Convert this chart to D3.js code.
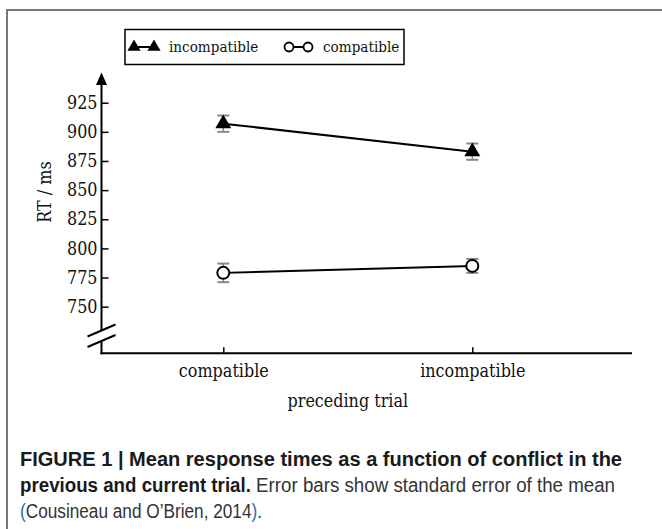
<!DOCTYPE html>
<html>
<head>
<meta charset="utf-8">
<script src="https://cdn.jsdelivr.net/npm/d3@7"></script>
<style>
  body { margin: 0; background: #fff; }
  svg { display: block; }
</style>
</head>
<body>
<div id="chart"></div>
<script>
// Data
var precedingTrial = ["compatible", "incompatible"];
var incompatibleRT = [907, 883];
var incompatibleSE = [7, 7];
var compatibleRT = [779, 785];
var compatibleSE = [8, 6];
var yTicks = [750, 775, 800, 825, 850, 875, 900, 925];

var svgWidth = 662;
var svgHeight = 529;

var svg = d3.select("#chart")
    .append("svg")
    .attr("width", svgWidth)
    .attr("height", svgHeight);

// Figure frame (cut at right and bottom)
svg.append("path")
    .attr("d", "M7,529 V10 H662")
    .attr("fill", "none")
    .attr("stroke", "#777")
    .attr("stroke-width", 2);

var serif = "'DejaVu Serif Condensed', 'DejaVu Serif', serif";
var labelSize = 17.8;

// Scales
var xScale = d3.scalePoint()
    .domain(precedingTrial)
    .range([223.3, 472.3]);

var yScale = d3.scaleLinear()
    .domain([710, 925])
    .range([353.3, 102.7]);

var axisX = 101.5;
var axisY = yScale(710);

// Y axis with ticks pointing inward
var leftAxis = d3.axisLeft(yScale)
    .tickValues(yTicks)
    .tickSizeInner(-7)
    .tickSizeOuter(0)
    .tickPadding(4);

var yAxis = svg.append("g")
    .attr("transform", `translate(${axisX},0)`)
    .call(leftAxis);
yAxis.select(".domain").remove();
yAxis.selectAll(".tick line").attr("stroke", "#000").attr("stroke-width", 1.5);
yAxis.selectAll(".tick text")
    .attr("font-family", serif)
    .attr("font-size", labelSize)
    .attr("fill", "#111");

// Y axis line with break and arrow
var breakTop = 330.5;
var breakBottom = 341;
svg.append("line")
    .attr("x1", axisX).attr("x2", axisX)
    .attr("y1", 82).attr("y2", breakTop)
    .attr("stroke", "#000").attr("stroke-width", 2);
svg.append("line")
    .attr("x1", axisX).attr("x2", axisX)
    .attr("y1", breakBottom).attr("y2", axisY + 1)
    .attr("stroke", "#000").attr("stroke-width", 2);
[breakTop, breakBottom].forEach(function(by) {
    svg.append("line")
        .attr("x1", axisX - 14).attr("y1", by + 6)
        .attr("x2", axisX + 14).attr("y2", by - 6)
        .attr("stroke", "#000").attr("stroke-width", 2);
});
svg.append("path")
    .attr("d", `M${axisX},72.5 L${axisX - 5.5},85 L${axisX + 5.5},85 Z`)
    .attr("fill", "#000");

// X axis
var bottomAxis = d3.axisBottom(xScale)
    .tickSizeInner(-6)
    .tickSizeOuter(0)
    .tickPadding(11);

var xAxis = svg.append("g")
    .attr("transform", `translate(0,${axisY})`)
    .call(bottomAxis);
xAxis.select(".domain").remove();
xAxis.selectAll(".tick line").attr("stroke", "#000").attr("stroke-width", 1.5);
xAxis.selectAll(".tick text")
    .attr("font-family", serif)
    .attr("font-size", labelSize)
    .attr("fill", "#111");
svg.append("line")
    .attr("x1", axisX - 1).attr("x2", 632)
    .attr("y1", axisY).attr("y2", axisY)
    .attr("stroke", "#000").attr("stroke-width", 2);

// Axis titles
svg.append("text")
    .attr("transform", "translate(45,192) rotate(-90)")
    .attr("dy", "0.35em")
    .attr("text-anchor", "middle")
    .attr("font-family", serif)
    .attr("font-size", labelSize)
    .attr("fill", "#111")
    .text("RT / ms");

svg.append("text")
    .attr("x", (xScale("compatible") + xScale("incompatible")) / 2)
    .attr("y", 407)
    .attr("text-anchor", "middle")
    .attr("font-family", serif)
    .attr("font-size", labelSize)
    .attr("fill", "#111")
    .text("preceding trial");

// Series
var series = [
    { name: "incompatible", values: incompatibleRT, se: incompatibleSE, marker: "triangle" },
    { name: "compatible", values: compatibleRT, se: compatibleSE, marker: "circle" }
];

var line = d3.line()
    .x(function(d) { return xScale(d.x); })
    .y(function(d) { return yScale(d.y); });

var triangle = d3.symbol().type(d3.symbolTriangle).size(110);
var triangleSmall = d3.symbol().type(d3.symbolTriangle).size(75);

series.forEach(function(s) {
    var pts = precedingTrial.map(function(c, i) {
        return { x: c, y: s.values[i], se: s.se[i] };
    });

    var g = svg.append("g");

    g.append("path")
        .datum(pts)
        .attr("d", line)
        .attr("fill", "none")
        .attr("stroke", "#000")
        .attr("stroke-width", 2);

    // Error bars
    var eb = g.selectAll(".eb")
        .data(pts)
        .enter()
        .append("g");
    eb.append("line")
        .attr("x1", d => xScale(d.x)).attr("x2", d => xScale(d.x))
        .attr("y1", d => yScale(d.y - d.se)).attr("y2", d => yScale(d.y + d.se))
        .attr("stroke", "#888").attr("stroke-width", 1.5);
    [-1, 1].forEach(function(sgn) {
        eb.append("line")
            .attr("x1", d => xScale(d.x) - 6).attr("x2", d => xScale(d.x) + 6)
            .attr("y1", d => yScale(d.y + sgn * d.se)).attr("y2", d => yScale(d.y + sgn * d.se))
            .attr("stroke", "#888").attr("stroke-width", 2);
    });

    // Markers
    if (s.marker === "triangle") {
        g.selectAll(".m")
            .data(pts)
            .enter()
            .append("path")
            .attr("d", triangle)
            .attr("transform", d => `translate(${xScale(d.x)},${yScale(d.y)})`)
            .attr("fill", "#000");
    } else {
        g.selectAll(".m")
            .data(pts)
            .enter()
            .append("circle")
            .attr("cx", d => xScale(d.x))
            .attr("cy", d => yScale(d.y))
            .attr("r", 6)
            .attr("fill", "#fff")
            .attr("stroke", "#000")
            .attr("stroke-width", 2);
    }
});

// Legend
var legend = svg.append("g");
legend.append("rect")
    .attr("x", 125).attr("y", 29.5)
    .attr("width", 279).attr("height", 35)
    .attr("fill", "#fff")
    .attr("stroke", "#000")
    .attr("stroke-width", 1.5);

var legendY = 47;
legend.append("line")
    .attr("x1", 134).attr("x2", 154)
    .attr("y1", legendY).attr("y2", legendY)
    .attr("stroke", "#000").attr("stroke-width", 2);
[134, 154].forEach(function(lx) {
    legend.append("path")
        .attr("d", triangleSmall)
        .attr("transform", `translate(${lx},${legendY})`)
        .attr("fill", "#000");
});
legend.append("text")
    .attr("x", 169).attr("y", legendY)
    .attr("dy", "0.35em")
    .attr("font-family", serif)
    .attr("font-size", 15.1)
    .attr("fill", "#111")
    .text(series[0].name);

legend.append("line")
    .attr("x1", 289).attr("x2", 308)
    .attr("y1", legendY).attr("y2", legendY)
    .attr("stroke", "#000").attr("stroke-width", 2);
[289, 308].forEach(function(lx) {
    legend.append("circle")
        .attr("cx", lx).attr("cy", legendY)
        .attr("r", 4.5)
        .attr("fill", "#fff")
        .attr("stroke", "#000")
        .attr("stroke-width", 1.8);
});
legend.append("text")
    .attr("x", 323).attr("y", legendY)
    .attr("dy", "0.35em")
    .attr("font-family", serif)
    .attr("font-size", 15.1)
    .attr("fill", "#111")
    .text(series[1].name);

// Caption
var sans = "'Liberation Sans Narrow', 'Liberation Sans', Arial, sans-serif";
function captionLine(y, len) {
    return svg.append("text")
        .attr("x", 20).attr("y", y)
        .attr("font-family", sans)
        .attr("font-size", 19.5)
        .attr("textLength", len)
        .attr("lengthAdjust", "spacingAndGlyphs");
}
captionLine(466, 602)
    .append("tspan")
    .attr("font-weight", "bold").attr("fill", "#1a1a1a")
    .text("FIGURE 1 | Mean response times as a function of conflict in the");

var line2 = captionLine(492, 595);
line2.append("tspan")
    .attr("font-weight", "bold").attr("fill", "#1a1a1a")
    .text("previous and current trial.");
line2.append("tspan")
    .attr("fill", "#333")
    .text(" Error bars show standard error of the mean");

var line3 = captionLine(518, 242);
line3.append("tspan").attr("fill", "#2a6db5").text("(");
line3.append("tspan").attr("fill", "#333").text("Cousineau and O\u2019Brien, 2014");
line3.append("tspan").attr("fill", "#2a6db5").text(")");
line3.append("tspan").attr("fill", "#333").text(".");
</script>
</body>
</html>
